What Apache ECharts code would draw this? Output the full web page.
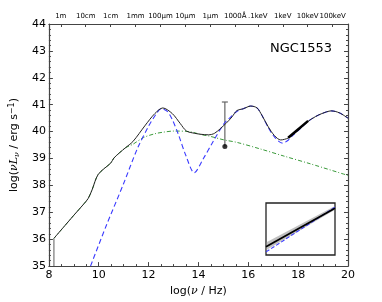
<!DOCTYPE html>
<html><head><meta charset="utf-8">
<script src="https://cdn.jsdelivr.net/npm/echarts@6/dist/echarts.min.js"></script>
<style>html,body{margin:0;padding:0;background:#fff}#c{width:382px;height:302px}</style>
</head><body><div id="c"></div>
<script>
// ---- data ----
var totalX = [8.2, 8.6, 9.0, 9.41, 9.58, 9.73, 9.98, 10.49, 10.61, 11.06, 11.37, 11.87, 12.25, 12.57, 12.95, 13.27, 13.52, 13.83, 14.1, 14.4, 14.65, 15.1, 15.35, 15.54, 15.8, 16.1, 16.35, 16.55, 16.8, 17.05, 17.3, 17.6, 17.81, 18.1, 18.38, 18.7, 18.95, 19.33, 19.65, 20.0];
var totalY = [36.03, 36.46, 36.89, 37.32, 37.52, 37.83, 38.41, 38.84, 39.02, 39.39, 39.63, 40.24, 40.67, 40.88, 40.67, 40.3, 40.02, 39.94, 39.9, 39.88, 39.94, 40.3, 40.55, 40.78, 40.85, 40.95, 40.88, 40.6, 40.18, 39.85, 39.69, 39.76, 39.9, 40.12, 40.37, 40.56, 40.67, 40.77, 40.7, 40.5];
var hostX = [8.2, 8.6, 9.0, 9.41, 9.58, 9.73, 9.98, 10.49, 10.61, 11.06, 11.37, 11.8, 12.25, 12.6, 13.01, 13.64, 14.14, 14.4, 15.03, 15.54, 16.5, 17.43, 18.5, 20.0];
var hostY = [36.03, 36.46, 36.89, 37.32, 37.52, 37.83, 38.41, 38.84, 39.02, 39.39, 39.53, 39.78, 39.92, 39.98, 40.02, 40.0, 39.88, 39.84, 39.69, 39.6, 39.35, 39.09, 38.8, 38.37];
var agnX = [9.67, 10.3, 10.99, 11.56, 12.0, 12.3, 12.5, 12.75, 12.95, 13.2, 13.5, 13.83, 14.2, 14.6, 15.03, 15.3, 15.54, 15.8, 16.1, 16.35, 16.55, 16.8, 17.05, 17.37, 17.6, 17.81, 18.1, 18.38, 18.7, 18.95, 19.33, 19.65, 20.0];
var agnY = [35.0, 36.5, 38.05, 39.39, 40.2, 40.65, 40.85, 40.75, 40.45, 39.88, 39.1, 38.47, 39.0, 39.65, 40.3, 40.55, 40.75, 40.85, 40.95, 40.88, 40.6, 40.15, 39.8, 39.57, 39.68, 39.88, 40.12, 40.37, 40.56, 40.67, 40.77, 40.7, 40.5];
var xrayX = [17.6, 18.4];
var xrayY = [39.77, 40.4];
var radioEdgeX = [8.2, 8.2];
var radioEdgeY = [35.0, 36.03];
var pointX = [15.06];
var pointY = [39.45];
var pointErrHi = [41.1];
var topLabelVals = [8.477, 9.477, 10.477, 11.477, 12.477, 13.477, 14.477, 15.477, 16.383, 17.383, 18.383, 19.383];
var topLabels = ['1m', '10cm', '1cm', '1mm', '100\u03bcm', '10\u03bcm', '1\u03bcm', '1000\u00c5', '.1keV', '1keV', '10keV', '100keV'];
// inset (normalised coordinates)
var insetX = [0, 1];
var insetFitY = [0.16, 0.9];
var insetBandLo = [0.09, 0.87];
var insetBandHi = [0.24, 0.94];
var insetModelY = [0.06, 0.92];

function pairs(xs, ys) { return xs.map(function (x, i) { return [x, ys[i]]; }); }

var font = 'DejaVu Sans';
var axisCol = '#444';
var chart = echarts.init(document.getElementById('c'), null, { renderer: 'canvas' });
chart.setOption({
  animation: false,
  textStyle: { fontFamily: font },
  title: { text: 'NGC1553', right: 45, top: 37, textStyle: { fontFamily: font, fontSize: 13, fontWeight: 'normal', color: '#000' } },
  grid: [
    { left: 31, right: 34, top: 24, bottom: 32, containLabel: false },
    { left: 266, top: 203, width: 69, height: 52, show: true, borderColor: '#222', borderWidth: 1.3, backgroundColor: 'rgba(255,255,255,0)' }
  ],
  xAxis: [
    { type: 'value', gridIndex: 0, min: 8, max: 20, interval: 2, position: 'bottom',
      axisLine: { lineStyle: { color: axisCol, width: 1.2 } },
      axisTick: { inside: true, length: 4, lineStyle: { color: axisCol } },
      minorTick: { show: true, splitNumber: 4, length: 2, lineStyle: { color: axisCol } },
      splitLine: { show: false },
      axisLabel: { color: '#000', fontSize: 11, margin: 4 },
      name: '{n|log(}{i|\u03bd}{n| / Hz)}', nameLocation: 'middle', nameGap: 19,
      nameTextStyle: { rich: { n: { fontSize: 11, color: '#000', fontFamily: font }, i: { fontSize: 11, color: '#000', fontStyle: 'italic', fontFamily: 'DejaVu Serif' } } } },
    { type: 'value', gridIndex: 0, min: 8, max: 20, position: 'top',
      axisLine: { lineStyle: { color: axisCol, width: 1.2 } },
      axisTick: { inside: true, length: 3, customValues: topLabelVals, lineStyle: { color: axisCol } },
      splitLine: { show: false },
      axisLabel: { customValues: topLabelVals, color: '#000', fontSize: 7, margin: 4,
        formatter: function (v) { for (var i = 0; i < topLabelVals.length; i++) { if (Math.abs(topLabelVals[i] - v) < 1e-6) return topLabels[i]; } return ''; } } },
    { type: 'value', gridIndex: 1, min: 0, max: 1, show: false }
  ],
  yAxis: [
    { type: 'value', gridIndex: 0, min: 35, max: 44, interval: 1, position: 'left',
      axisLine: { show: true, lineStyle: { color: axisCol, width: 1.2 } },
      axisTick: { show: true, inside: true, length: 4, lineStyle: { color: axisCol } },
      minorTick: { show: true, splitNumber: 5, length: 2, lineStyle: { color: axisCol } },
      splitLine: { show: false },
      axisLabel: { color: '#000', fontSize: 11, margin: 3 },
      name: '{n|log(}{i|\u03bdL}{s|\u03bd}{n| / erg s}{p|\u22121}{n|)}', nameLocation: 'middle', nameGap: 20, nameRotate: 90,
      nameTextStyle: { rich: {
        n: { fontSize: 11, color: '#000', fontFamily: font },
        i: { fontSize: 11, color: '#000', fontStyle: 'italic', fontFamily: 'DejaVu Serif' },
        s: { fontSize: 8, color: '#000', fontStyle: 'italic', fontFamily: 'DejaVu Serif', verticalAlign: 'bottom', padding: [4, 0, 0, 0] },
        p: { fontSize: 8, color: '#000', fontFamily: font, verticalAlign: 'top', padding: [0, 0, 5, 0] } } } },
    { type: 'value', gridIndex: 0, min: 35, max: 44, interval: 1, position: 'right',
      axisLine: { show: true, lineStyle: { color: axisCol, width: 1.2 } },
      axisTick: { show: true, inside: true, length: 4, lineStyle: { color: axisCol } },
      minorTick: { show: true, splitNumber: 5, length: 2, lineStyle: { color: axisCol } },
      splitLine: { show: false }, axisLabel: { show: false } },
    { type: 'value', gridIndex: 1, min: 0, max: 1, show: false }
  ],
  series: [
    { type: 'line', xAxisIndex: 0, yAxisIndex: 0, data: pairs(radioEdgeX, radioEdgeY), showSymbol: false, lineStyle: { color: '#999', width: 1.6 } },
    { type: 'line', xAxisIndex: 0, yAxisIndex: 0, data: pairs(hostX, hostY), smooth: 0.3, showSymbol: false,
      lineStyle: { color: '#3a9a3a', width: 1, type: [4, 2, 1, 2] } },
    { type: 'line', xAxisIndex: 0, yAxisIndex: 0, data: pairs(agnX, agnY), smooth: 0.3, showSymbol: false,
      lineStyle: { color: '#3a3aff', width: 1.1, type: [5, 3] } },
    { type: 'line', xAxisIndex: 0, yAxisIndex: 0, data: pairs(totalX, totalY), smooth: 0.3, showSymbol: false,
      lineStyle: { color: '#222', width: 1 } },
    { type: 'line', xAxisIndex: 0, yAxisIndex: 0, data: pairs(xrayX, xrayY), showSymbol: false, lineStyle: { color: '#000', width: 2.5 } },
    { type: 'custom', xAxisIndex: 0, yAxisIndex: 0,
      data: pointX.map(function (x, i) { return [x, pointY[i], pointErrHi[i]]; }),
      renderItem: function (params, api) {
        var lo = api.coord([api.value(0), api.value(1)]);
        var hi = api.coord([api.value(0), api.value(2)]);
        return { type: 'group', children: [
          { type: 'line', shape: { x1: lo[0], y1: lo[1], x2: hi[0], y2: hi[1] }, style: { stroke: '#666', lineWidth: 1.2 } },
          { type: 'line', shape: { x1: hi[0] - 3, y1: hi[1], x2: hi[0] + 3, y2: hi[1] }, style: { stroke: '#666', lineWidth: 1.2 } }
        ] };
      } },
    { type: 'scatter', xAxisIndex: 0, yAxisIndex: 0, data: pairs(pointX, pointY), symbolSize: 5, itemStyle: { color: '#000' } },
    // inset
    { type: 'custom', xAxisIndex: 2, yAxisIndex: 2, data: [0],
      renderItem: function (params, api) {
        var pts = [];
        for (var i = 0; i < insetX.length; i++) pts.push(api.coord([insetX[i], insetBandLo[i]]));
        for (var j = insetX.length - 1; j >= 0; j--) pts.push(api.coord([insetX[j], insetBandHi[j]]));
        return { type: 'polygon', shape: { points: pts }, style: { fill: 'rgba(140,140,140,0.55)' } };
      } },
    { type: 'line', xAxisIndex: 2, yAxisIndex: 2, data: pairs(insetX, insetModelY), showSymbol: false, lineStyle: { color: '#3a3aff', width: 1.1, type: [4, 2] } },
    { type: 'line', xAxisIndex: 2, yAxisIndex: 2, data: pairs(insetX, insetFitY), showSymbol: false, lineStyle: { color: '#000', width: 1.8 } }
  ]
});
</script></body></html>
